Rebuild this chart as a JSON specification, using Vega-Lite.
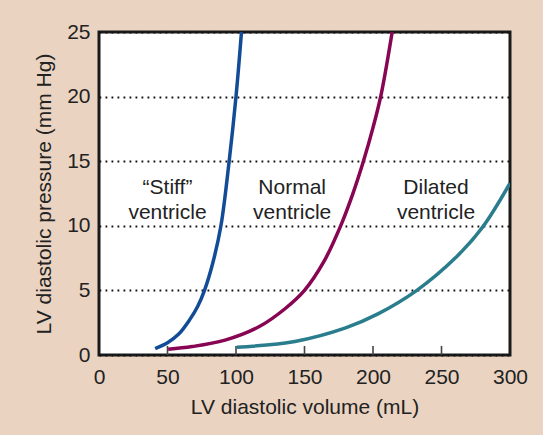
{
  "$schema": "https://vega.github.io/schema/vega-lite/v6.json",
  "width": 411,
  "height": 323,
  "autosize": {"type": "none"},
  "padding": {"left": 99, "top": 32, "right": 33, "bottom": 80},
  "background": "#ead4c1",
  "config": {
    "view": {"stroke": "#1a1a1a", "strokeWidth": 3, "fill": "white"},
    "font": "Liberation Sans"
  },
  "datasets": {
    "curves": [
      {"curve": "Stiff", "volume": 41, "pressure": 0.5},
      {"curve": "Stiff", "volume": 50, "pressure": 0.95},
      {"curve": "Stiff", "volume": 58, "pressure": 1.6},
      {"curve": "Stiff", "volume": 66, "pressure": 2.7},
      {"curve": "Stiff", "volume": 72, "pressure": 3.75},
      {"curve": "Stiff", "volume": 77, "pressure": 5.0},
      {"curve": "Stiff", "volume": 83, "pressure": 7.1},
      {"curve": "Stiff", "volume": 89, "pressure": 10},
      {"curve": "Stiff", "volume": 95, "pressure": 15},
      {"curve": "Stiff", "volume": 100, "pressure": 20},
      {"curve": "Stiff", "volume": 104, "pressure": 25},
      {"curve": "Normal", "volume": 50.5, "pressure": 0.45},
      {"curve": "Normal", "volume": 68, "pressure": 0.65},
      {"curve": "Normal", "volume": 92, "pressure": 1.15},
      {"curve": "Normal", "volume": 117, "pressure": 2.2},
      {"curve": "Normal", "volume": 136, "pressure": 3.6},
      {"curve": "Normal", "volume": 150, "pressure": 5.0},
      {"curve": "Normal", "volume": 164, "pressure": 7.2},
      {"curve": "Normal", "volume": 176, "pressure": 9.9},
      {"curve": "Normal", "volume": 185, "pressure": 12.4},
      {"curve": "Normal", "volume": 193, "pressure": 15},
      {"curve": "Normal", "volume": 200, "pressure": 17.6},
      {"curve": "Normal", "volume": 206, "pressure": 20.2},
      {"curve": "Normal", "volume": 214, "pressure": 25},
      {"curve": "Dilated", "volume": 100.5, "pressure": 0.6},
      {"curve": "Dilated", "volume": 143, "pressure": 1.05},
      {"curve": "Dilated", "volume": 180, "pressure": 2.1},
      {"curve": "Dilated", "volume": 204, "pressure": 3.2},
      {"curve": "Dilated", "volume": 232, "pressure": 5.0},
      {"curve": "Dilated", "volume": 260, "pressure": 7.5},
      {"curve": "Dilated", "volume": 280, "pressure": 9.9},
      {"curve": "Dilated", "volume": 300, "pressure": 13.3}
    ],
    "ticks": [
      {"volume": 50}, {"volume": 100}, {"volume": 150}, {"volume": 200}, {"volume": 250}
    ],
    "labels": [
      {"volume": 50, "pressure": 12.5, "text": "“Stiff”"},
      {"volume": 50, "pressure": 10.5, "text": "ventricle"},
      {"volume": 141, "pressure": 12.5, "text": "Normal"},
      {"volume": 141, "pressure": 10.5, "text": "ventricle"},
      {"volume": 246, "pressure": 12.5, "text": "Dilated"},
      {"volume": 246, "pressure": 10.5, "text": "ventricle"}
    ]
  },
  "layer": [
    {
      "data": {"name": "ticks"},
      "mark": {"type": "rule", "color": "#444", "strokeWidth": 1.6},
      "encoding": {
        "x": {"field": "volume", "type": "quantitative"},
        "y": {"datum": 0},
        "y2": {"datum": 0.7}
      }
    },
    {
      "data": {"name": "curves"},
      "mark": {"type": "line", "strokeWidth": 3.5, "clip": true, "interpolate": "catmull-rom"},
      "encoding": {
        "x": {
          "field": "volume", "type": "quantitative",
          "scale": {"domain": [0, 300], "nice": false, "zero": false},
          "axis": {
            "values": [0, 50, 100, 150, 200, 250, 300],
            "title": "LV diastolic volume (mL)",
            "titleFontSize": 21, "titleFontWeight": "normal", "titleColor": "#222", "titlePadding": 9,
            "labelFontSize": 21, "labelColor": "#222", "labelPadding": 11,
            "labelFlush": false, "labelOverlap": false,
            "ticks": false, "domain": false, "grid": false
          }
        },
        "y": {
          "field": "pressure", "type": "quantitative",
          "scale": {"domain": [0, 25], "nice": false, "zero": false},
          "axis": {
            "values": [0, 5, 10, 15, 20, 25],
            "title": "LV diastolic pressure (mm Hg)",
            "titleFontSize": 21, "titleFontWeight": "normal", "titleColor": "#222", "titlePadding": 12,
            "labelFontSize": 21, "labelColor": "#222", "labelPadding": 9,
            "labelFlush": false, "labelOverlap": false,
            "ticks": false, "domain": false,
            "grid": true, "gridColor": "#111", "gridDash": [1.8, 4.2], "gridWidth": 1.8, "gridOpacity": 1
          }
        },
        "color": {
          "field": "curve", "type": "nominal",
          "scale": {"domain": ["Stiff", "Normal", "Dilated"], "range": ["#124c97", "#870552", "#2a7d8c"]},
          "legend": null
        }
      }
    },
    {
      "data": {"name": "labels"},
      "mark": {"type": "text", "fontSize": 21, "baseline": "alphabetic", "align": "center", "color": "#222"},
      "encoding": {
        "x": {"field": "volume", "type": "quantitative"},
        "y": {"field": "pressure", "type": "quantitative"},
        "text": {"field": "text"}
      }
    }
  ]
}
